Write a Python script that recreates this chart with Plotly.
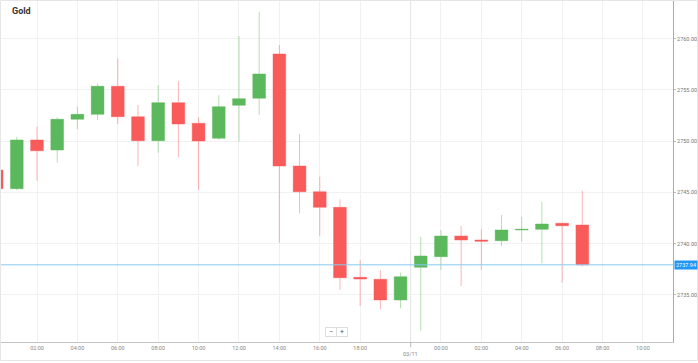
import plotly.graph_objects as go

# ---- data ----
hours = list(range(0, 30))
opens = [2747.19, 2745.37, 2750.12, 2749.14, 2752.14, 2752.62, 2755.36, 2752.39, 2750.05, 2753.76,
         2751.75, 2750.28, 2753.50, 2754.19, 2758.51, 2747.58, 2745.07, 2743.55, 2736.72, 2736.53,
         2734.51, 2737.70, 2738.73, 2740.75, 2740.36, 2740.29, 2741.34, 2741.40, 2741.99, 2741.82]
highs = [2747.30, 2750.44, 2751.41, 2752.33, 2753.37, 2755.61, 2758.09, 2753.53, 2755.48, 2755.87,
         2752.33, 2754.48, 2760.26, 2762.63, 2759.39, 2750.70, 2746.54, 2744.33, 2738.41, 2737.43,
         2737.17, 2740.68, 2741.34, 2741.73, 2741.40, 2742.80, 2742.63, 2744.10, 2742.05, 2745.17]
lows = [2745.25, 2745.24, 2746.15, 2747.90, 2751.16, 2752.07, 2751.68, 2747.58, 2748.88, 2748.43,
        2745.24, 2750.12, 2749.95, 2752.56, 2740.10, 2742.97, 2740.78, 2735.48, 2733.92, 2733.60,
        2733.70, 2731.51, 2737.43, 2735.87, 2737.43, 2739.78, 2740.20, 2738.09, 2736.20, 2737.80]
closes = [2745.37, 2750.12, 2749.07, 2752.14, 2752.62, 2755.36, 2752.39, 2750.05, 2753.76, 2751.68,
          2750.02, 2753.37, 2754.15, 2756.56, 2747.58, 2745.07, 2743.55, 2736.68, 2736.55, 2734.51,
          2736.78, 2738.80, 2740.75, 2740.36, 2740.25, 2741.34, 2741.40, 2741.92, 2741.76, 2737.94]

x_tickvals = [0, 2, 4, 6, 8, 10, 12, 14, 16, 18, 22, 24, 26, 28, 30, 32]
x_ticktext = ["00:00", "02:00", "04:00", "06:00", "08:00", "10:00", "12:00", "14:00", "16:00",
              "18:00", "00:00", "02:00", "04:00", "06:00", "08:00", "10:00"]
date_sep_x = 20.5
date_label = "03/11"
y_tickvals = [2735, 2740, 2745, 2750, 2755, 2760]
current_price = 2737.94
title = "Gold"

W, H = 698, 363
ML, MR, MT, MB = 0, 25, 1, 21
PW, PH = W - ML - MR, H - MT - MB

def px_x(p):
    return (p - ML) / PW

def px_y(p):
    return (H - MB - p) / PH

FONT = "Roboto, Liberation Sans, Arial, sans-serif"

fig = go.Figure()
fig.add_trace(go.Candlestick(
    x=hours, open=opens, high=highs, low=lows, close=closes,
    increasing=dict(fillcolor="#5cb85c", line=dict(color="rgba(92,184,92,0.45)", width=1)),
    decreasing=dict(fillcolor="#f95a5a", line=dict(color="rgba(249,90,90,0.45)", width=1)),
    whiskerwidth=0, showlegend=False, hoverinfo="skip",
))

shapes = [
    # date separator line
    dict(type="line", xref="x", yref="paper", x0=date_sep_x, x1=date_sep_x, y0=0, y1=1,
         line=dict(color="#e4e4e4", width=1), layer="below"),
    dict(type="line", xref="x", yref="paper", x0=date_sep_x, x1=date_sep_x, y0=0, y1=px_y(347),
         line=dict(color="#bbbbbb", width=1)),
    # current price line
    dict(type="line", xref="paper", yref="y", x0=0, x1=1, y0=current_price, y1=current_price,
         line=dict(color="#86c8f2", width=1)),
    # outer border
    dict(type="rect", xref="paper", yref="paper", x0=px_x(0.5), x1=px_x(697.5), y0=px_y(360.5), y1=px_y(0.5),
         line=dict(color="#e6e6e6", width=1), fillcolor="rgba(0,0,0,0)"),
]

annotations = [
    dict(text="<b>" + title + "</b>", xref="paper", yref="paper", x=px_x(10), y=px_y(11),
         xanchor="left", yanchor="middle", showarrow=False, font=dict(family=FONT, size=9, color="#333333")),
    dict(text=date_label, xref="x", yref="paper", x=date_sep_x, y=px_y(354), xanchor="center", yanchor="middle",
         showarrow=False, font=dict(family=FONT, size=5.5, color="#888888")),
    dict(text=f"{current_price:.2f}", xref="paper", yref="y", x=px_x(674), y=current_price,
         xanchor="left", yanchor="middle", showarrow=False, bgcolor="#2196f3", borderpad=1,
         font=dict(family=FONT, size=5.5, color="#ffffff")),
    dict(text="−", xref="paper", yref="paper", x=px_x(331), y=px_y(332), xanchor="center", yanchor="middle",
         showarrow=False, bgcolor="#ffffff", bordercolor="#dddddd", borderwidth=1, width=8, height=6,
         font=dict(family=FONT, size=7, color="#555555")),
    dict(text="+", xref="paper", yref="paper", x=px_x(341.5), y=px_y(332), xanchor="center", yanchor="middle",
         showarrow=False, bgcolor="#ffffff", bordercolor="#dddddd", borderwidth=1, width=8, height=6,
         font=dict(family=FONT, size=7, color="#555555")),
]

fig.update_layout(
    width=W, height=H,
    margin=dict(l=ML, r=MR, t=MT, b=MB, pad=0),
    paper_bgcolor="#ffffff", plot_bgcolor="#ffffff",
    boxgap=0.1, boxgroupgap=0.3,
    shapes=shapes, annotations=annotations,
    font=dict(family=FONT, size=6, color="#777777"),
    xaxis=dict(
        range=[0.168, 33.49], tickmode="array", tickvals=x_tickvals, ticktext=x_ticktext,
        showgrid=True, gridcolor="#f1f1f1", gridwidth=1, zeroline=False,
        showline=True, linecolor="#c4c4c4", linewidth=1, ticks="",
        tickfont=dict(family=FONT, size=5.5, color="#888888"),
        rangeslider=dict(visible=False), fixedrange=True,
    ),
    yaxis=dict(
        range=[2730.41, 2763.68], side="right", tickmode="array", tickvals=y_tickvals,
        tickformat=".2f", showgrid=True, gridcolor="#f1f1f1", zeroline=False,
        showline=True, linecolor="#aaaaaa", linewidth=1, ticks="outside", ticklen=2,
        tickcolor="#bbbbbb", tickfont=dict(family=FONT, size=5.5, color="#777777"),
        fixedrange=True,
    ),
)

fig.write_html("out.html", config={"displayModeBar": False},
               post_script="document.body.style.margin='0';document.body.style.overflow='hidden';")
